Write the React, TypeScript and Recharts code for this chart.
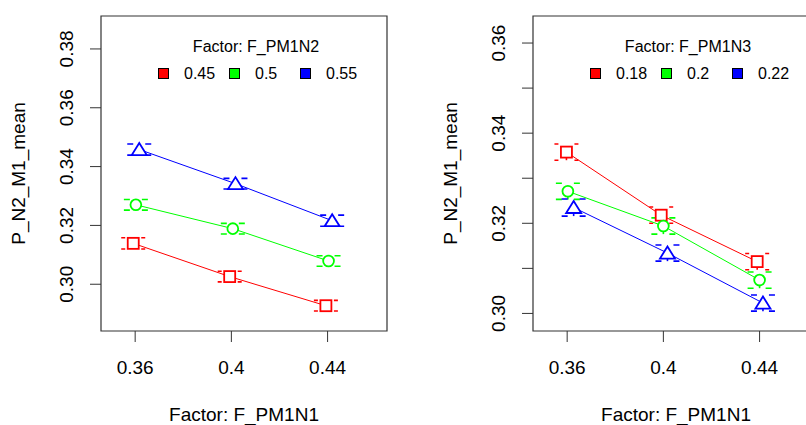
import React from "react";
import { ScatterChart, Scatter, XAxis, YAxis, ErrorBar, ReferenceArea, Label } from "recharts";

const FONT = "'Liberation Sans', Arial, sans-serif";

// x categories (F_PM1N1) and tick labels
const xTicks = [0.36, 0.4, 0.44];

// left panel: grouped by F_PM1N2
const leftLevels = ["0.45", "0.5", "0.55"];
const leftX045 = [0.3592, 0.3993, 0.4393];
const leftY045 = [0.3139, 0.3026, 0.2927];
const leftE045 = [0.0019, 0.0018, 0.0018];
const leftX05 = [0.3603, 0.4006, 0.4404];
const leftY05 = [0.327, 0.3189, 0.3079];
const leftE05 = [0.0018, 0.0018, 0.0018];
const leftX055 = [0.3617, 0.4017, 0.4419];
const leftY055 = [0.3458, 0.3342, 0.3216];
const leftE055 = [0.0019, 0.0018, 0.0019];
const leftYTicks = [0.3, 0.32, 0.34, 0.36, 0.38];

// right panel: grouped by F_PM1N3
const rightLevels = ["0.18", "0.2", "0.22"];
const rightX018 = [0.3597, 0.3991, 0.439];
const rightY018 = [0.3358, 0.3218, 0.3115];
const rightE018 = [0.0018, 0.0018, 0.0018];
const rightX02 = [0.3603, 0.4, 0.44];
const rightY02 = [0.3271, 0.3194, 0.3074];
const rightE02 = [0.0018, 0.0018, 0.0018];
const rightX022 = [0.3627, 0.4017, 0.4414];
const rightY022 = [0.3235, 0.3134, 0.3023];
const rightE022 = [0.0019, 0.0018, 0.0018];
const rightYTicks = [0.3, 0.31, 0.32, 0.33, 0.34, 0.35, 0.36];

const colors = ["#ff0000", "#00ff00", "#0000ff"];
const shapes = ["square", "circle", "triangle"];
const capDash = ["4 16 4", "6 12 6", "6 12 6"];

const build = (xs: number[], ys: number[], es: number[]) =>
  xs.map((x, i) => ({ x, y: ys[i], err: es[i] }));

const leftSeries = [
  build(leftX045, leftY045, leftE045),
  build(leftX05, leftY05, leftE05),
  build(leftX055, leftY055, leftE055),
];
const rightSeries = [
  build(rightX018, rightY018, rightE018),
  build(rightX02, rightY02, rightE02),
  build(rightX022, rightY022, rightE022),
];

function Marker(props: any) {
  const { cx, cy, kind, color } = props;
  if (cx == null || cy == null) return null;
  if (kind === "square")
    return <rect x={cx - 5.5} y={cy - 5.5} width={11} height={11} fill="#fff" stroke={color} strokeWidth={1.8} />;
  if (kind === "circle")
    return <circle cx={cx} cy={cy} r={5.4} fill="#fff" stroke={color} strokeWidth={1.8} />;
  const pts = `${cx},${cy - 6.5} ${cx - 7.5},${cy + 5.5} ${cx + 7.5},${cy + 5.5}`;
  return <polygon points={pts} fill="#fff" stroke={color} strokeWidth={1.8} strokeLinejoin="miter" />;
}

const NoDot = () => <g />;

function YTick(props: any) {
  const { x, y, payload, labelled } = props;
  if (!labelled.includes(payload.value)) return null;
  return (
    <text x={x} y={y} transform={`rotate(-90, ${x}, ${y})`} textAnchor="middle" fontSize={19} fill="#000" fontFamily={FONT}>
      {payload.value.toFixed(2)}
    </text>
  );
}

function YTitle(props: any) {
  const vb = props.viewBox;
  const x = vb.x + 25;
  const y = vb.y + vb.height / 2;
  return (
    <text x={x} y={y} transform={`rotate(-90, ${x}, ${y})`} textAnchor="middle" fontSize={19} fill="#000" fontFamily={FONT}>
      P_N2_M1_mean
    </text>
  );
}

function Panel(props: any) {
  const { series, yDomain, yTicks, labelled, levels, title, left } = props;
  const xDomain = [0.3458, 0.4647];
  return (
    <div style={{ position: "absolute", left, top: 0, width: 403, height: 425 }}>
      <ScatterChart width={403} height={425} margin={{ top: 16, right: 16, bottom: 0, left: 0 }}>
        <XAxis
          type="number"
          dataKey="x"
          domain={xDomain}
          ticks={xTicks}
          allowDataOverflow
          axisLine={false}
          tickSize={11}
          tickMargin={19}
          height={94}
          tickLine={{ stroke: "#333" }}
          tick={{ fill: "#000", fontSize: 19, fontFamily: FONT }}
          tickFormatter={(v: number) => String(v)}
        >
          <Label value="Factor: F_PM1N1" position="insideBottom" offset={4} fill="#000" fontSize={19} fontFamily={FONT} />
        </XAxis>
        <YAxis
          type="number"
          dataKey="y"
          domain={yDomain}
          ticks={yTicks}
          allowDataOverflow
          axisLine={false}
          width={101}
          tickSize={11}
          tickMargin={17}
          tickLine={{ stroke: "#333" }}
          tick={<YTick labelled={labelled} />}
        >
          <Label content={<YTitle />} />
        </YAxis>
        <ReferenceArea
          x1={xDomain[0]}
          x2={xDomain[1]}
          y1={yDomain[0]}
          y2={yDomain[1]}
          fill="none"
          stroke="#333"
          strokeWidth={1.2}
          fillOpacity={0}
        />
        {series.map((data: any[], i: number) => (
          <Scatter
            key={"l" + i}
            data={data}
            isAnimationActive={false}
            line={{ stroke: colors[i], strokeWidth: 1 }}
            shape={NoDot}
          >
            <ErrorBar
              dataKey="err"
              direction="y"
              width={12}
              stroke={colors[i]}
              strokeWidth={1.6}
              strokeDasharray={capDash[i]}
              isAnimationActive={false}
            />
          </Scatter>
        ))}
        {series.map((data: any[], i: number) => (
          <Scatter
            key={"m" + i}
            data={data}
            isAnimationActive={false}
            shape={(p: any) => <Marker {...p} kind={shapes[i]} color={colors[i]} />}
          />
        ))}
      </ScatterChart>
      <div
        style={{
          position: "absolute",
          left: 141,
          top: 38.5,
          width: 230,
          fontFamily: FONT,
          fontSize: 16,
          lineHeight: "16px",
          color: "#000",
        }}
      >
        <div style={{ textAlign: "center" }}>{title}</div>
        <div style={{ display: "flex", marginTop: 11, paddingLeft: 17 }}>
          {levels.map((lv: string, i: number) => (
            <div key={lv} style={{ width: 73.5, display: "flex", alignItems: "center" }}>
              <span
                style={{
                  display: "inline-block",
                  width: 11,
                  height: 11,
                  background: colors[i],
                  border: "1px solid #000",
                  boxSizing: "border-box",
                  marginRight: 15,
                }}
              />
              <span>{lv}</span>
            </div>
          ))}
        </div>
      </div>
    </div>
  );
}

export default function App() {
  return (
    <div
      style={{
        position: "fixed",
        left: 0,
        top: 0,
        width: 806,
        height: 425,
        overflow: "hidden",
        background: "#fff",
      }}
    >
      <Panel
        left={0}
        series={leftSeries}
        yDomain={[0.2841, 0.3912]}
        yTicks={leftYTicks}
        labelled={leftYTicks}
        levels={leftLevels}
        title="Factor: F_PM1N2"
      />
      <Panel
        left={432}
        series={rightSeries}
        yDomain={[0.2961, 0.366]}
        yTicks={rightYTicks}
        labelled={[0.3, 0.32, 0.34, 0.36]}
        levels={rightLevels}
        title="Factor: F_PM1N3"
      />
    </div>
  );
}
